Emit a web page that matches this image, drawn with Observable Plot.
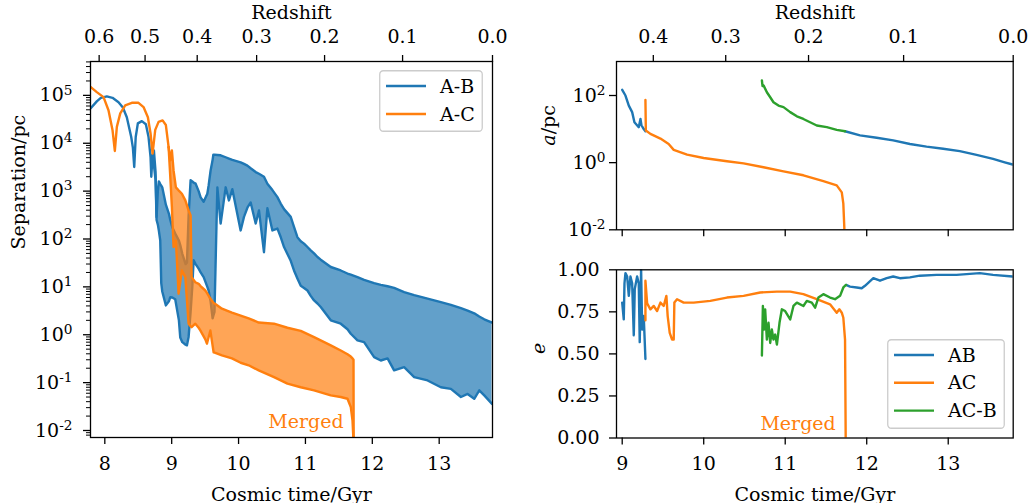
<!DOCTYPE html>
<html><head><meta charset="utf-8">
<script src="https://cdn.jsdelivr.net/npm/d3@7"></script>
<script src="https://cdn.jsdelivr.net/npm/@observablehq/plot@0.6"></script>
<style>
body{margin:0;background:#fff;}
#wrap{position:relative;width:1029px;height:503px;overflow:hidden;background:#fff;}
</style></head><body><div id="wrap"></div>
<script>
// ---------------- data ----------------
const timeTicksLeft = [8, 9, 10, 11, 12, 13];
const timeTicksRight = [9, 10, 11, 12, 13];
const redshiftTicksLeft = [0.6, 0.5, 0.4, 0.3, 0.2, 0.1, 0.0];
const redshiftLabelsLeft = ["0.6", "0.5", "0.4", "0.3", "0.2", "0.1", "0.0"];
const redshiftTicksRight = [0.4, 0.3, 0.2, 0.1, 0.0];
const redshiftLabelsRight = ["0.4", "0.3", "0.2", "0.1", "0.0"];
const sepTicks = [1e-2, 1e-1, 1e0, 1e1, 1e2, 1e3, 1e4, 1e5];
const aTicks = [1e-2, 1e0, 1e2];
const eTicks = [0, 0.25, 0.5, 0.75, 1];
const eTickLabels = ["0.00", "0.25", "0.50", "0.75", "1.00"];
const legendLeftLabels = ["A-B", "A-C"];
const legendRightLabels = ["AB", "AC", "AC-B"];

// Left panel: separation (pc) vs cosmic time (Gyr)
const abEarlyT = [7.786, 7.880, 7.940, 8.030, 8.115, 8.205, 8.270, 8.329, 8.395, 8.420, 8.440, 8.462, 8.494, 8.554, 8.614, 8.654, 8.684, 8.695, 8.714];
const abEarlySep = [5.3e4, 7.5e4, 8.9e4, 9.5e4, 8.9e4, 7.2e4, 5.6e4, 3.5e4, 1.35e4, 8e3, 3.2e3, 1.35e4, 2.6e4, 2.9e4, 2.5e4, 1.35e4, 5.1e3, 2.0e3, 5.6e3];
const acEarlyT = [7.786, 7.880, 7.981, 8.055, 8.115, 8.150, 8.180, 8.231, 8.305, 8.404, 8.504, 8.579, 8.644, 8.684, 8.714, 8.754, 8.804, 8.864, 8.913, 8.954];
const acEarlySep = [1.5e5, 1.17e5, 9.2e4, 4.9e4, 1.9e4, 6.9e3, 2.2e4, 4.2e4, 6.2e4, 7.0e4, 7.0e4, 5.7e4, 3.5e4, 1.6e4, 6.1e3, 1.9e4, 2.8e4, 3.0e4, 2.4e4, 8.3e3];

const abBandT = [8.714, 8.734, 8.759, 8.774, 8.793, 8.808, 8.829, 8.844, 8.859, 8.913, 8.958, 8.979, 9.009, 9.053, 9.108, 9.128, 9.159, 9.208, 9.228, 9.253, 9.283, 9.308, 9.328, 9.358, 9.403, 9.433, 9.478, 9.533, 9.552, 9.582, 9.612, 9.623, 9.640, 9.683, 9.732, 9.807, 9.856, 9.907, 10.031, 10.081, 10.132, 10.181, 10.256, 10.305, 10.380, 10.431, 10.506, 10.581, 10.630, 10.680, 10.780, 10.829, 10.880, 10.930, 10.979, 11.030, 11.079, 11.129, 11.180, 11.229, 11.379, 11.528, 11.629, 11.678, 11.778, 11.877, 12.027, 12.127, 12.228, 12.326, 12.476, 12.626, 12.826, 13.025, 13.175, 13.325, 13.425, 13.524, 13.599, 13.674, 13.79];
const abHi = [5600, 7100, 2500, 290, 1000, 1600, 1400, 1300, 1200, 520, 340, 250, 177, 130, 93, 75, 49, 30, 32, 300, 1700, 1600, 1500, 1430, 1000, 740, 600, 880, 1300, 2700, 4500, 5800, 5800, 5700, 5600, 5100, 4800, 4500, 4000, 3700, 3400, 3000, 2500, 2300, 2000, 1430, 1050, 750, 550, 420, 290, 180, 109, 90, 80, 68, 58, 50, 42, 37, 26, 22, 19, 18, 16, 14, 12, 11, 10.3, 9.5, 7.8, 6.7, 5.7, 4.8, 4.2, 3.6, 3.2, 2.8, 2.4, 2.1, 1.8];
const abLo = [5600, 3500, 1700, 250, 200, 150, 93, 12, 8, 4.1, 5, 6.1, 6, 5.5, 2, 0.88, 0.7, 0.62, 0.6, 0.9, 3, 10, 36, 30, 24, 20, 16, 10, 8.4, 5, 2.2, 2.5, 3, 1200, 210, 1200, 640, 1100, 151, 290, 450, 580, 210, 395, 53, 440, 151, 165, 110, 68, 35, 22, 15, 10.5, 9.5, 8.4, 6.5, 5.2, 4.5, 3.8, 2.0, 1.7, 1.3, 1.05, 0.76, 0.70, 0.34, 0.29, 0.32, 0.18, 0.21, 0.13, 0.111, 0.080, 0.074, 0.050, 0.058, 0.046, 0.069, 0.054, 0.036];

const acBandT = [8.954, 8.979, 9.003, 9.028, 9.063, 9.103, 9.153, 9.204, 9.253, 9.283, 9.298, 9.353, 9.403, 9.428, 9.503, 9.527, 9.578, 9.627, 9.653, 9.751, 9.901, 10.031, 10.151, 10.301, 10.530, 10.731, 10.930, 11.129, 11.379, 11.528, 11.629, 11.678, 11.704, 11.719, 11.722];
const acHi = [8300, 4400, 7100, 2700, 1200, 1040, 880, 640, 395, 310, 16, 12.5, 11.6, 10.5, 8.4, 7.5, 5.7, 4.6, 4.4, 3.5, 2.9, 2.5, 2.2, 1.8, 1.7, 1.4, 1.2, 0.89, 0.60, 0.47, 0.39, 0.35, 0.32, 0.30, 0.001];
const acLo = [8300, 2000, 470, 68, 93, 7.2, 22, 16, 1.7, 1.5, 1.44, 1.7, 1.4, 1.23, 0.8, 0.65, 1.23, 0.43, 0.42, 0.37, 0.32, 0.26, 0.23, 0.18, 0.13, 0.095, 0.080, 0.069, 0.054, 0.050, 0.046, 0.031, 0.016, 0.006, 0.001];

// Right top panel: semi-major axis a (pc)
const aABearlyT = [9.000, 9.040, 9.081, 9.122, 9.150, 9.203, 9.224, 9.236, 9.264, 9.285];
const aABearly = [148, 100, 50, 32, 16, 11.4, 20, 13, 10, 8.6];
const aACT = [9.285, 9.290, 9.346, 9.469, 9.570, 9.632, 9.796, 9.999, 10.285, 10.489, 10.734, 10.979, 11.223, 11.468, 11.632, 11.694, 11.713, 11.725, 11.73];
const aAC = [74, 9.1, 7.2, 5.2, 3.6, 2.4, 1.74, 1.38, 1.1, 0.95, 0.73, 0.55, 0.42, 0.28, 0.21, 0.13, 0.06, 0.012, 0.001];
const aACBT = [10.714, 10.722, 10.734, 10.775, 10.816, 10.856, 10.917, 10.979, 11.061, 11.143, 11.223, 11.305, 11.387, 11.510, 11.632, 11.734];
const aACB = [280, 190, 200, 125, 89, 63, 50, 45, 32, 24, 20, 16, 12.8, 11.4, 9.5, 8.6];
const aABlateT = [11.734, 11.918, 12.122, 12.325, 12.530, 12.734, 12.938, 13.142, 13.347, 13.550, 13.693, 13.79];
const aABlate = [8.6, 6.5, 5.5, 4.6, 3.6, 3.0, 2.6, 2.2, 1.7, 1.29, 1.02, 0.88];

// Right bottom panel: eccentricity e
const eABearlyT = [9.000, 9.019, 9.028, 9.040, 9.061, 9.081, 9.101, 9.122, 9.142, 9.154, 9.183, 9.203, 9.215, 9.232, 9.245, 9.264, 9.285];
const eABearly = [0.805, 0.705, 0.92, 0.98, 0.96, 0.845, 0.96, 0.92, 0.61, 0.885, 0.96, 0.92, 0.57, 1.0, 0.645, 0.725, 0.47];
const eACT = [9.285, 9.285, 9.306, 9.346, 9.387, 9.428, 9.469, 9.509, 9.542, 9.558, 9.583, 9.612, 9.632, 9.640, 9.673, 9.754, 9.877, 10.081, 10.285, 10.489, 10.693, 10.898, 11.061, 11.223, 11.387, 11.550, 11.632, 11.664, 11.694, 11.713, 11.734, 11.742];
const eAC = [0.70, 0.935, 0.80, 0.765, 0.785, 0.755, 0.805, 0.785, 0.845, 0.725, 0.625, 0.585, 0.585, 0.805, 0.825, 0.805, 0.805, 0.815, 0.835, 0.845, 0.865, 0.87, 0.87, 0.855, 0.825, 0.795, 0.745, 0.765, 0.745, 0.715, 0.585, 0];
const eACBT = [10.714, 10.726, 10.742, 10.754, 10.775, 10.795, 10.816, 10.836, 10.856, 10.877, 10.898, 10.930, 10.959, 10.999, 11.061, 11.101, 11.143, 11.223, 11.265, 11.326, 11.367, 11.407, 11.468, 11.550, 11.611, 11.673, 11.713, 11.746];
const eACB = [0.49, 0.785, 0.645, 0.765, 0.585, 0.685, 0.565, 0.645, 0.585, 0.615, 0.555, 0.685, 0.765, 0.755, 0.705, 0.785, 0.805, 0.785, 0.815, 0.805, 0.775, 0.835, 0.855, 0.835, 0.825, 0.845, 0.895, 0.91];
const eABlateT = [11.746, 11.795, 11.877, 11.938, 11.979, 12.081, 12.163, 12.245, 12.325, 12.407, 12.530, 12.652, 12.857, 13.102, 13.387, 13.550, 13.79];
const eABlate = [0.91, 0.90, 0.895, 0.89, 0.905, 0.95, 0.935, 0.95, 0.96, 0.95, 0.955, 0.965, 0.97, 0.97, 0.98, 0.97, 0.96];

// annotations
const mergedLeft = [{t: 11.57, v: 0.0112, text: "Merged"}];
const mergedRight = [{t: 11.62, e: 0.05, text: "Merged"}];

// ---------------- helpers ----------------
const C0 = "#1f77b4", C1 = "#ff7f0e", C2 = "#2ca02c";
const FONT = '"DejaVu Serif", serif';
const LW = 2.4;
const NS = "http://www.w3.org/2000/svg";
// flat LambdaCDM age (Gyr) at redshift z, used for the secondary redshift axis
const H0 = 67.7, Om = 0.31, OL = 1 - Om;
const tOfZ = z => (977.8 / H0) * (2 / (3 * Math.sqrt(OL))) * Math.asinh(Math.sqrt(OL / Om) * Math.pow(1 + z, -1.5));
const tMax = tOfZ(0);

const zip = (t, y, key = "y") => t.map((d, i) => ({t: d, [key]: y[i]}));
const band = (t, lo, hi) => t.map((d, i) => ({t: d, lo: lo[i], hi: hi[i]}));

const abEarly = zip(abEarlyT, abEarlySep);
const acEarly = zip(acEarlyT, acEarlySep);
const abBand = band(abBandT, abLo, abHi);
const acBand = band(acBandT, acLo, acHi);

const zTimesLeft = redshiftTicksLeft.map(tOfZ);
const zTimesRight = redshiftTicksRight.map(tOfZ);

const minorTicks = [];
for (let d = -3; d <= 5; d++) for (let k = 2; k <= 9; k++) {
  const v = k * Math.pow(10, d);
  if (v > 0.00714 && v < 5.1e5) minorTicks.push(v);
}
const supFmt = d => "10^" + Math.round(Math.log10(d));

function supify(svg) {
  svg.querySelectorAll("text").forEach(el => {
    const m = /^10\^(-?\d+)$/.exec(el.textContent);
    if (!m) return;
    el.textContent = "";
    const a = document.createElementNS(NS, "tspan"); a.textContent = "10"; el.appendChild(a);
    const b = document.createElementNS(NS, "tspan");
    b.setAttribute("dy", "-0.5em"); b.setAttribute("font-size", "0.72em");
    b.textContent = m[1]; el.appendChild(b);
  });
}
function place(svg, left, top) {
  svg.style.position = "absolute";
  svg.style.left = left + "px";
  svg.style.top = top + "px";
  svg.style.overflow = "visible";
  document.getElementById("wrap").appendChild(svg);
}
function legend(left, top, w, h, labels, colors, y0, step) {
  const s = d3.create("svg").attr("width", w).attr("height", h)
    .style("position", "absolute").style("left", left + "px").style("top", top + "px");
  s.append("rect").attr("x", 0.75).attr("y", 0.75).attr("width", w - 1.5).attr("height", h - 1.5)
    .attr("rx", 3.5).attr("fill", "white").attr("fill-opacity", 0.8).attr("stroke", "#cccccc").attr("stroke-width", 1.3);
  labels.forEach((lab, i) => {
    const y = y0 + i * step;
    s.append("line").attr("x1", 7).attr("x2", 47).attr("y1", y).attr("y2", y)
      .attr("stroke", colors[i]).attr("stroke-width", LW);
    s.append("text").attr("x", 61).attr("y", y).attr("dy", "0.35em")
      .attr("font-family", FONT).attr("font-size", 19).attr("fill", "black").text(lab);
  });
  document.getElementById("wrap").appendChild(s.node());
}
const baseStyle = {fontFamily: FONT, fontSize: "19px", color: "black", background: "transparent"};

// ---------------- left panel ----------------
const left = Plot.plot({
  width: 510, height: 503,
  marginLeft: 90, marginRight: 18, marginTop: 61, marginBottom: 66,
  style: baseStyle,
  x: {domain: [7.786, tMax], label: null},
  y: {type: "log", domain: [0.00714, 5.1e5], label: null},
  marks: [
    Plot.lineY(abEarly, {x: "t", y: "y", stroke: C0, strokeWidth: LW, clip: true}),
    Plot.areaY(abBand, {x: "t", y1: "lo", y2: "hi", fill: C0, fillOpacity: 0.7, clip: true}),
    Plot.lineY(abBand, {x: "t", y: "hi", stroke: C0, strokeWidth: LW, clip: true}),
    Plot.lineY(abBand, {x: "t", y: "lo", stroke: C0, strokeWidth: LW, clip: true}),
    Plot.lineY(acEarly, {x: "t", y: "y", stroke: C1, strokeWidth: LW, clip: true}),
    Plot.areaY(acBand, {x: "t", y1: "lo", y2: "hi", fill: C1, fillOpacity: 0.7, clip: true}),
    Plot.lineY(acBand, {x: "t", y: "hi", stroke: C1, strokeWidth: LW, clip: true}),
    Plot.lineY(acBand, {x: "t", y: "lo", stroke: C1, strokeWidth: LW, clip: true}),
    Plot.text(mergedLeft, {x: "t", y: "v", text: "text", fill: C1, textAnchor: "end", lineAnchor: "bottom", fontSize: 19}),
    Plot.frame({stroke: "black", strokeWidth: 1.3}),
    Plot.axisX({anchor: "bottom", ticks: timeTicksLeft, tickFormat: d => String(d), tickSize: 7, tickPadding: 12, strokeWidth: 1.3, label: null}),
    Plot.axisX({anchor: "top", ticks: zTimesLeft, tickFormat: d => redshiftLabelsLeft[zTimesLeft.indexOf(d)], tickSize: 7, tickPadding: 12, strokeWidth: 1.3, label: null}),
    Plot.axisY({anchor: "left", ticks: sepTicks, tickFormat: supFmt, tickSize: 7, tickPadding: 11, strokeWidth: 1.3, label: null}),
    Plot.axisY({anchor: "left", ticks: minorTicks, tickFormat: () => "", tickSize: 4, strokeWidth: 1, label: null}),
    Plot.text(["Cosmic time/Gyr"], {text: d => d, frameAnchor: "bottom", dy: 63, lineAnchor: "bottom", fontSize: 19}),
    Plot.text(["Redshift"], {text: d => d, frameAnchor: "top", dy: -43, lineAnchor: "bottom", fontSize: 19}),
    Plot.text(["Separation/pc"], {text: d => d, frameAnchor: "left", dx: -72, rotate: -90, lineAnchor: "middle", fontSize: 19})
  ]
});
supify(left);
place(left, 0, 0);
legend(379, 70, 104, 62, legendLeftLabels, [C0, C1], 16, 28);

// ---------------- right top panel ----------------
const rTop = Plot.plot({
  width: 509, height: 240,
  marginLeft: 96, marginRight: 16.3, marginTop: 61, marginBottom: 10.7,
  style: baseStyle,
  x: {domain: [8.93, tMax], label: null},
  y: {type: "log", domain: [0.01, 1030], label: null},
  marks: [
    Plot.lineY(zip(aABearlyT, aABearly), {x: "t", y: "y", stroke: C0, strokeWidth: LW, clip: true}),
    Plot.lineY(zip(aABlateT, aABlate), {x: "t", y: "y", stroke: C0, strokeWidth: LW, clip: true}),
    Plot.lineY(zip(aACT, aAC), {x: "t", y: "y", stroke: C1, strokeWidth: LW, clip: true}),
    Plot.lineY(zip(aACBT, aACB), {x: "t", y: "y", stroke: C2, strokeWidth: LW, clip: true}),
    Plot.frame({stroke: "black", strokeWidth: 1.3}),
    Plot.axisX({anchor: "bottom", ticks: timeTicksRight, tickFormat: () => "", tickSize: 7, strokeWidth: 1.3, label: null}),
    Plot.axisX({anchor: "top", ticks: zTimesRight, tickFormat: d => redshiftLabelsRight[zTimesRight.indexOf(d)], tickSize: 7, tickPadding: 12, strokeWidth: 1.3, label: null}),
    Plot.axisY({anchor: "left", ticks: aTicks, tickFormat: supFmt, tickSize: 7, tickPadding: 4, strokeWidth: 1.3, label: null}),
    Plot.text(["Redshift"], {text: d => d, frameAnchor: "top", dy: -43, lineAnchor: "bottom", fontSize: 19}),
    Plot.text(["a/pc"], {text: d => d, frameAnchor: "left", dx: -68, rotate: -90, lineAnchor: "middle", fontSize: 19})
  ]
});
supify(rTop);
rTop.querySelectorAll("text").forEach(el => {
  if (el.textContent === "a/pc") {
    el.textContent = "";
    const a = document.createElementNS(NS, "tspan"); a.setAttribute("font-style", "italic"); a.textContent = "a"; el.appendChild(a);
    const b = document.createElementNS(NS, "tspan"); b.textContent = "/pc"; el.appendChild(b);
  }
});
place(rTop, 520, 0);

// ---------------- right bottom panel ----------------
const rBot = Plot.plot({
  width: 509, height: 263,
  marginLeft: 96, marginRight: 16.3, marginTop: 29.3, marginBottom: 65.5,
  style: baseStyle,
  x: {domain: [8.93, tMax], label: null},
  y: {domain: [0, 1], label: null},
  marks: [
    Plot.lineY(zip(eABearlyT, eABearly), {x: "t", y: "y", stroke: C0, strokeWidth: LW, clip: true}),
    Plot.lineY(zip(eABlateT, eABlate), {x: "t", y: "y", stroke: C0, strokeWidth: LW, clip: true}),
    Plot.lineY(zip(eACT, eAC), {x: "t", y: "y", stroke: C1, strokeWidth: LW, clip: true}),
    Plot.lineY(zip(eACBT, eACB), {x: "t", y: "y", stroke: C2, strokeWidth: LW, clip: true}),
    Plot.text(mergedRight, {x: "t", y: "e", text: "text", fill: C1, textAnchor: "end", lineAnchor: "bottom", fontSize: 19}),
    Plot.frame({stroke: "black", strokeWidth: 1.3}),
    Plot.axisX({anchor: "bottom", ticks: timeTicksRight, tickFormat: d => String(d), tickSize: 7, tickPadding: 11, strokeWidth: 1.3, label: null}),
    Plot.axisY({anchor: "left", ticks: eTicks, tickFormat: (d) => eTickLabels[eTicks.indexOf(d)], tickSize: 7, tickPadding: 10, strokeWidth: 1.3, label: null}),
    Plot.text(["Cosmic time/Gyr"], {text: d => d, frameAnchor: "bottom", dy: 62.5, lineAnchor: "bottom", fontSize: 19}),
    Plot.text(["e"], {text: d => d, frameAnchor: "left", dx: -78, rotate: -90, lineAnchor: "middle", fontSize: 19, fontStyle: "italic"})
  ]
});
place(rBot, 520, 240);
legend(886.7, 339, 118, 90, legendRightLabels, [C0, C1, C2], 16, 27.8);
</script></body></html>
